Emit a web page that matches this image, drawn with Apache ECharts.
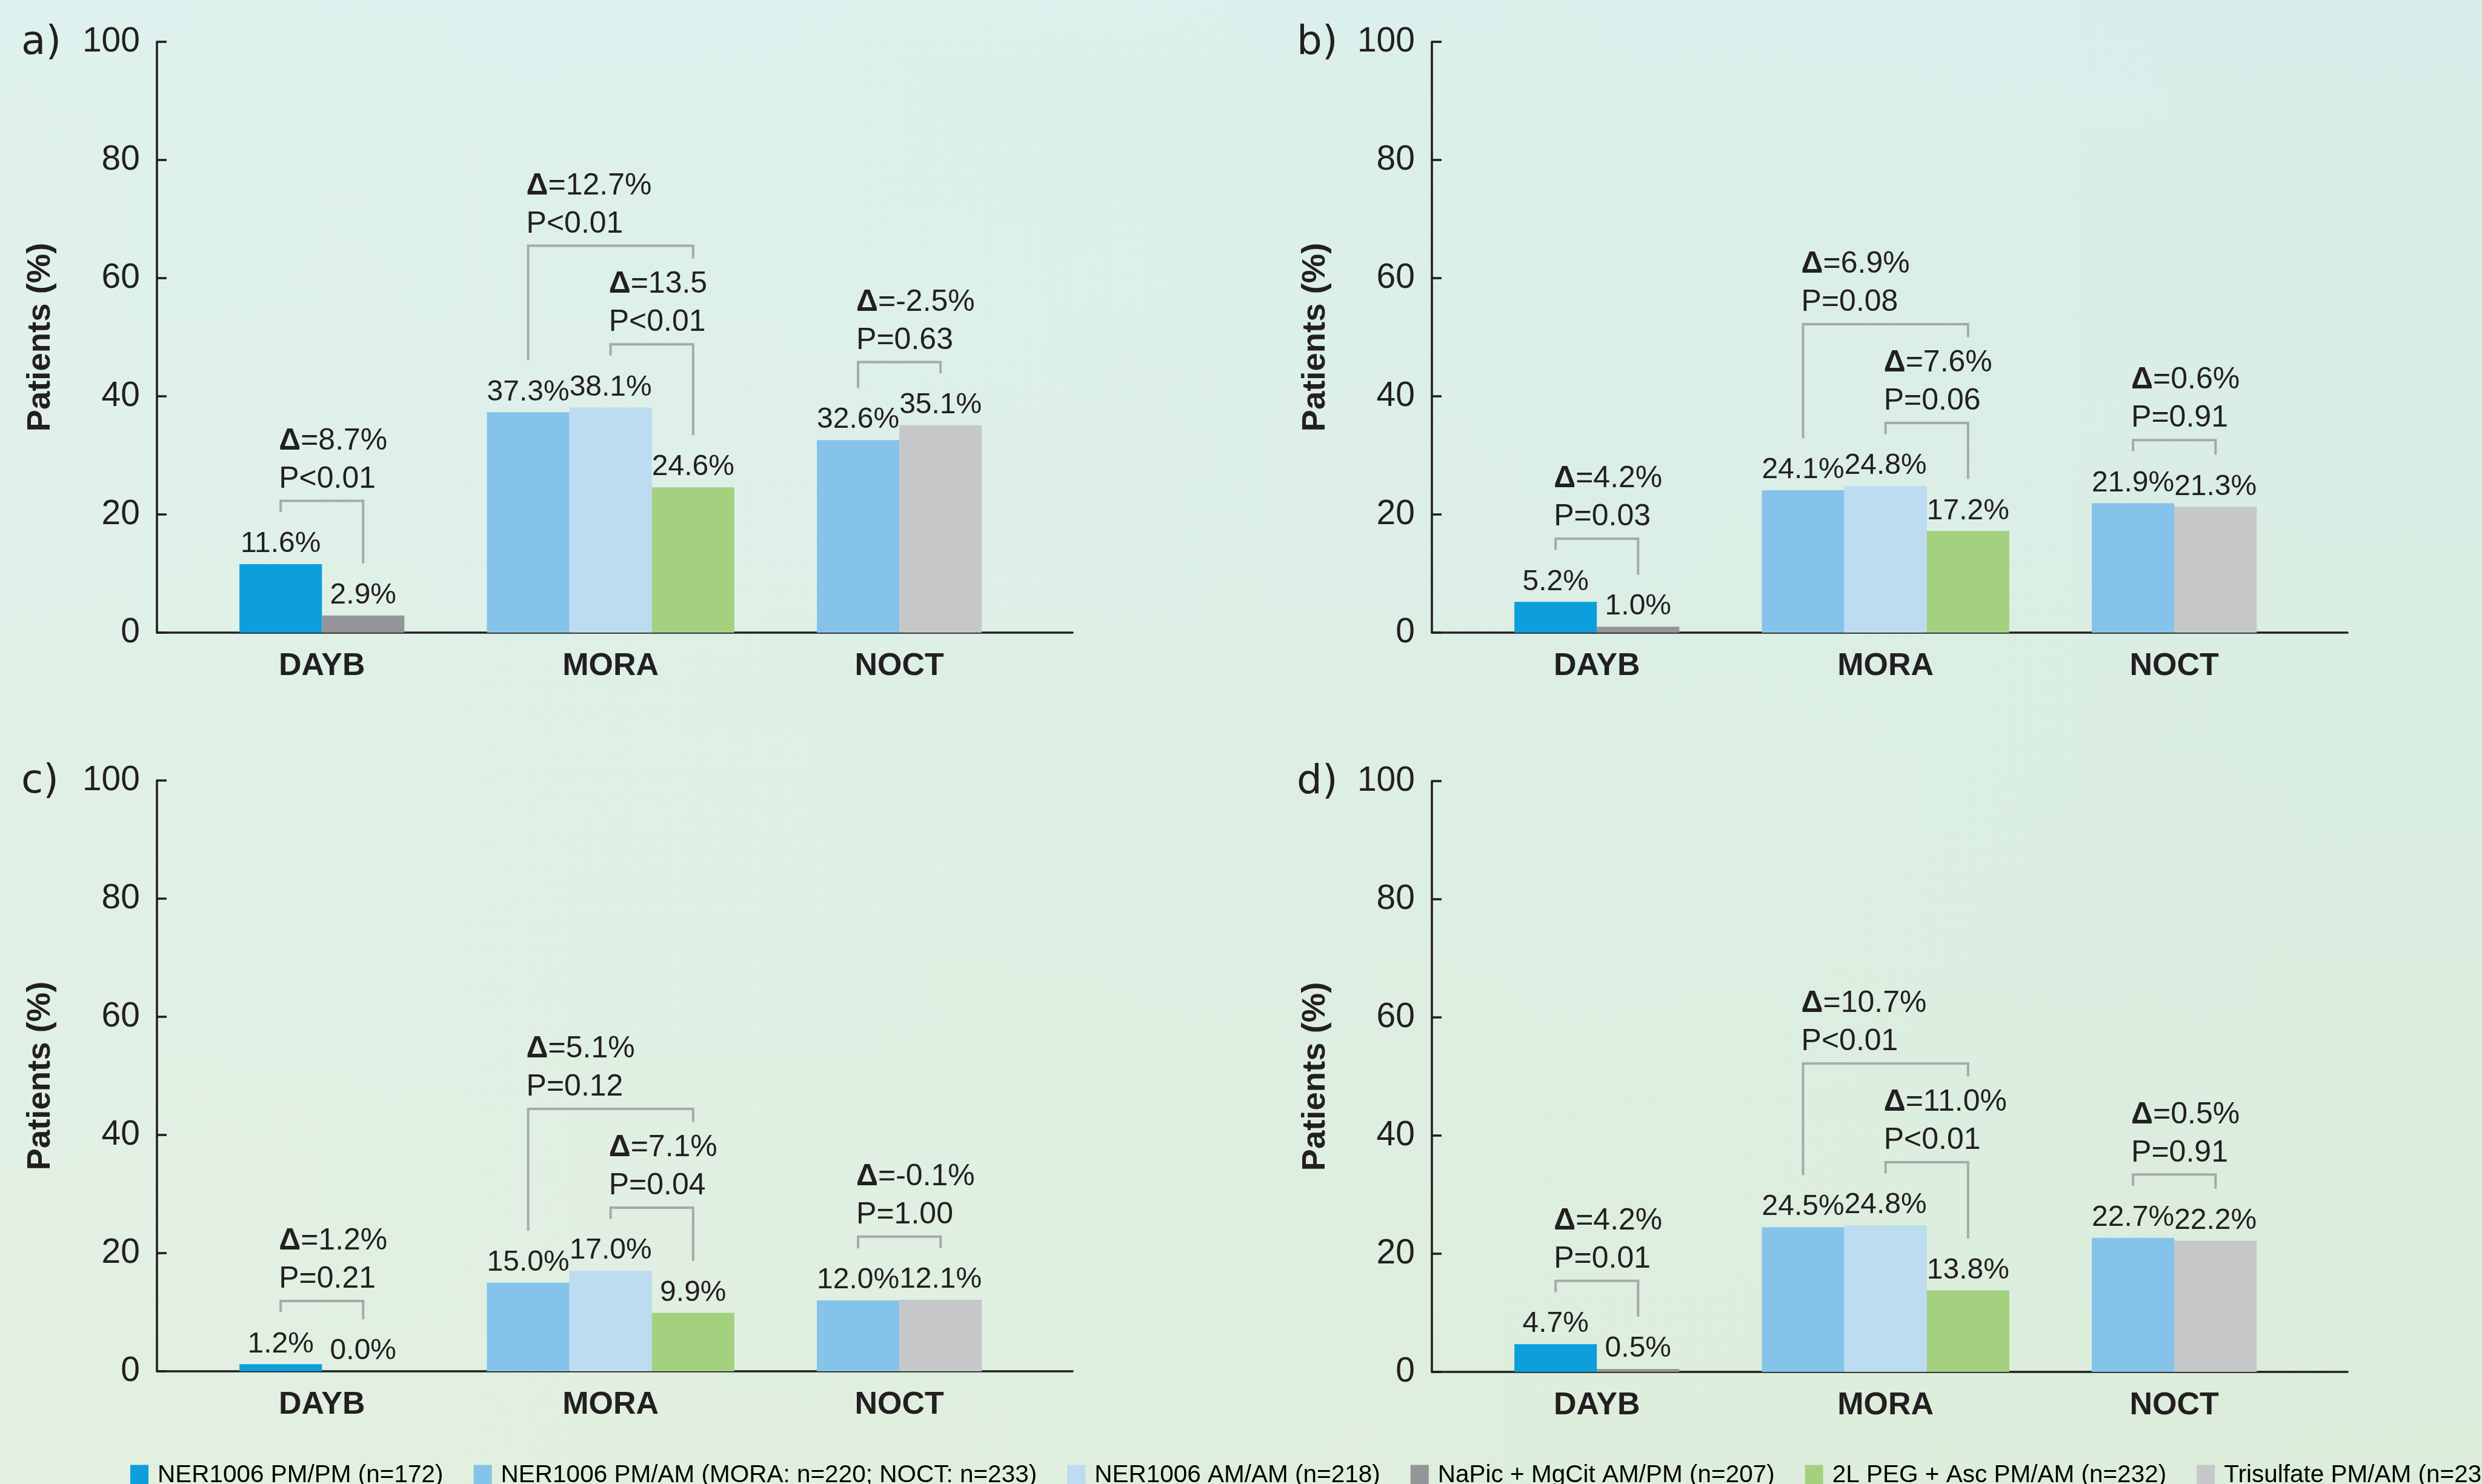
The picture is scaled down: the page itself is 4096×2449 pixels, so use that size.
<!DOCTYPE html>
<html>
<head>
<meta charset="utf-8">
<script src="https://cdn.jsdelivr.net/npm/echarts@6/dist/echarts.min.js"></script>
<style>
  html, body { margin: 0; padding: 0; overflow: hidden; }
  #chart { width: 4096px; height: 2449px; }
</style>
</head>
<body>
<div id="chart"></div>
<script>
// ---- data ----
const panelLabels = ['a)', 'b)', 'c)', 'd)'];
const categories = ['DAYB', 'MORA', 'NOCT'];
const groupNames = [
  'NER1006 PM/PM (n=172)',
  'NER1006 PM/AM (MORA: n=220; NOCT: n=233)',
  'NER1006 AM/AM (n=218)',
  'NaPic + MgCit AM/PM (n=207)',
  '2L PEG + Asc PM/AM (n=232)',
  'Trisulfate PM/AM (n=239)'
];
// values for panels a, b, c, d
const pmPmDayb = [11.6, 5.2, 1.2, 4.7];
const naPicDayb = [2.9, 1.0, 0.0, 0.5];
const pmAmMora = [37.3, 24.1, 15.0, 24.5];
const amAmMora = [38.1, 24.8, 17.0, 24.8];
const pegMora = [24.6, 17.2, 9.9, 13.8];
const pmAmNoct = [32.6, 21.9, 12.0, 22.7];
const trisulfateNoct = [35.1, 21.3, 12.1, 22.2];
// comparisons
const daybDelta = ['8.7%', '4.2%', '1.2%', '4.2%'];
const daybP = ['P<0.01', 'P=0.03', 'P=0.21', 'P=0.01'];
const moraOuterDelta = ['12.7%', '6.9%', '5.1%', '10.7%'];
const moraOuterP = ['P<0.01', 'P=0.08', 'P=0.12', 'P<0.01'];
const moraInnerDelta = ['13.5', '7.6%', '7.1%', '11.0%'];
const moraInnerP = ['P<0.01', 'P=0.06', 'P=0.04', 'P<0.01'];
const noctDelta = ['-2.5%', '0.6%', '-0.1%', '0.5%'];
const noctP = ['P=0.63', 'P=0.91', 'P=1.00', 'P=0.91'];

// ---- styles / layout ----
const groupColors = ['#0c9fdb', '#86c3ea', '#bddbf1', '#939598', '#a3d180', '#c6c7c9'];
const FONT = 'Liberation Sans';
const INK = '#231f20';
const gridLeft = [259, 2363, 259, 2363];
const gridTop = [69, 69, 1288, 1289];
const letterX = [35, 2140, 35, 2140];
const XMAX = 11.1;
const catCenter = i => 2 + 3.5 * i;
const LEG = 8.8, RISE = 1.9;

const barSets = [
  { cat: 0, groups: [0, 3], values: [pmPmDayb, naPicDayb] },
  { cat: 1, groups: [1, 2, 4], values: [pmAmMora, amAmMora, pegMora] },
  { cat: 2, groups: [1, 5], values: [pmAmNoct, trisulfateNoct] }
];
const slotX = (s, k) => catCenter(s.cat) + k - (s.groups.length - 1) / 2;
const annotDelta = [daybDelta, moraOuterDelta, moraInnerDelta, noctDelta];
const annotP = [daybP, moraOuterP, moraInnerP, noctP];

function bracketRows(p) {
  const v = (s, k) => s.values[k][p];
  const d = barSets[0], m = barSets[1], n = barSets[2];
  const rows = [];
  let l = v(d, 0) + LEG, r = v(d, 1) + LEG;
  rows.push([slotX(d, 0), slotX(d, 1), l, r, Math.max(l, r) + RISE, 0]);
  l = v(m, 1) + LEG; r = v(m, 2) + LEG;
  const ti = Math.max(l, r) + RISE;
  rows.push([slotX(m, 1), slotX(m, 2), l, r, ti, 2]);
  const to = ti + 16.7;
  rows.push([slotX(m, 0), slotX(m, 2), v(m, 0) + LEG, to - 2.2, to, 1]);
  l = v(n, 0) + LEG; r = v(n, 1) + LEG;
  rows.push([slotX(n, 0), slotX(n, 1), l, r, Math.max(l, r) + RISE, 3]);
  return rows;
}

function renderBar(params, api) {
  const x = api.value(0), val = api.value(1);
  const tl = api.coord([x - 0.5, val]);
  const br = api.coord([x + 0.5, 0]);
  return {
    type: 'group',
    children: [
      { type: 'rect', shape: { x: tl[0], y: tl[1], width: br[0] - tl[0], height: br[1] - tl[1] },
        style: { fill: api.visual('color') } },
      { type: 'text', style: { text: val.toFixed(1) + '%', x: (tl[0] + br[0]) / 2, y: tl[1] - 9,
        align: 'center', verticalAlign: 'bottom', fontSize: 48, lineHeight: 48,
        fontFamily: FONT, fill: INK } }
    ]
  };
}

function makeBracketRenderer(p) {
  return function (params, api) {
    const xl = api.value(0), xr = api.value(1);
    const a = api.coord([xl, api.value(2)]);
    const b = api.coord([xl, api.value(4)]);
    const c = api.coord([xr, api.value(4)]);
    const d = api.coord([xr, api.value(3)]);
    const idx = api.value(5);
    return {
      type: 'group',
      children: [
        { type: 'polyline', shape: { points: [a, b, c, d] },
          style: { stroke: '#a7a9ac', lineWidth: 4, fill: null, lineJoin: 'miter' } },
        { type: 'text', style: {
          text: '{d|Δ}=' + annotDelta[idx][p] + '\n' + annotP[idx][p],
          x: b[0] - 3, y: b[1] - 4, align: 'left', verticalAlign: 'bottom',
          fontSize: 50, lineHeight: 63, fontFamily: FONT, fill: INK,
          rich: { d: { fontWeight: 'bold', fontSize: 50, lineHeight: 63, fontFamily: FONT, fill: INK } }
        } }
      ]
    };
  };
}

const grids = [], xAxes = [], yAxes = [], series = [];
panelLabels.forEach((lab, p) => {
  grids.push({ left: gridLeft[p], top: gridTop[p], width: 1511, height: 975 });
  xAxes.push({
    type: 'value', gridIndex: p, min: 0, max: XMAX,
    axisLine: { show: true, lineStyle: { color: INK, width: 3.6 } },
    axisTick: { show: false },
    splitLine: { show: false },
    axisLabel: {
      customValues: categories.map((c, i) => catCenter(i)),
      formatter: val => categories[Math.round((val - 2) / 3.5)],
      margin: 30, fontSize: 52, fontWeight: 'bold', fontFamily: FONT, color: INK
    }
  });
  yAxes.push({
    type: 'value', gridIndex: p, min: 0, max: 100, interval: 20,
    name: 'Patients (%)', nameLocation: 'middle', nameGap: 165,
    nameTextStyle: { fontSize: 54.5, fontWeight: 'bold', fontFamily: FONT, color: INK },
    axisLine: { show: true, lineStyle: { color: INK, width: 3.6 } },
    axisTick: { show: true, inside: true, length: 16, lineStyle: { color: INK, width: 3.6 } },
    splitLine: { show: false },
    axisLabel: { margin: 28, fontSize: 57, fontFamily: FONT, color: INK }
  });
  groupNames.forEach((name, g) => {
    const data = [];
    barSets.forEach(s => {
      s.groups.forEach((gg, k) => {
        if (gg === g) data.push([slotX(s, k), s.values[k][p]]);
      });
    });
    series.push({
      type: 'custom', name, xAxisIndex: p, yAxisIndex: p,
      itemStyle: { color: groupColors[g] },
      renderItem: renderBar, data
    });
  });
  series.push({
    type: 'custom', xAxisIndex: p, yAxisIndex: p, z: 3,
    renderItem: makeBracketRenderer(p), data: bracketRows(p)
  });
});

const chart = echarts.init(document.getElementById('chart'));
chart.setOption({
  animation: false,
  graphic: [
    { type: 'rect', z: -100, silent: true, shape: { x: 0, y: 0, width: 4096, height: 2449 },
      style: { fill: new echarts.graphic.LinearGradient(0, 0, 0, 1, [
        { offset: 0, color: '#d8eeea' }, { offset: 1, color: '#dcedda' }]) } },
    { type: 'rect', z: -99, silent: true, shape: { x: 0, y: 0, width: 4096, height: 2449 },
      style: { fill: new echarts.graphic.LinearGradient(0, 0, 1, 0, [
        { offset: 0, color: 'rgba(255,255,255,0.18)' }, { offset: 1, color: 'rgba(255,255,255,0)' }]) } }
  ].concat(panelLabels.map((lab, p) => ({
    type: 'text', x: letterX[p], y: gridTop[p] + 3,
    style: { text: lab, fontSize: 66, fontFamily: 'DejaVu Sans', fill: INK, verticalAlign: 'middle' }
  }))),
  legend: {
    data: groupNames, left: 215, top: 2414, padding: 0, width: 8000,
    icon: 'rect', itemWidth: 30, itemHeight: 34, itemGap: 50, selectedMode: false,
    formatter: name => '{s|}' + name,
    textStyle: { fontSize: 40.5, fontFamily: FONT, color: '#000', rich: { s: { width: 10 } } }
  },
  grid: grids,
  xAxis: xAxes,
  yAxis: yAxes,
  series
});
</script>
</body>
</html>
